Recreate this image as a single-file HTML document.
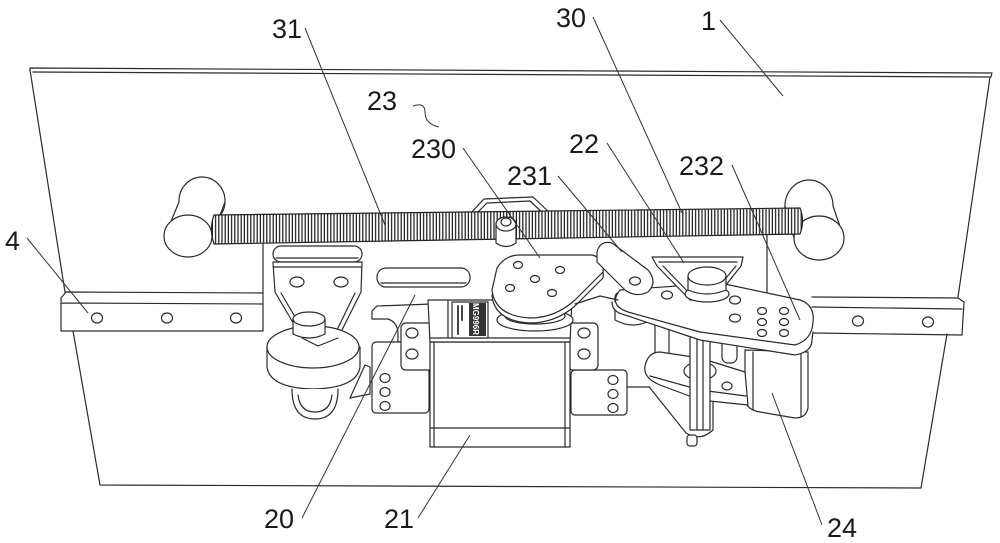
<!DOCTYPE html>
<html><head><meta charset="utf-8"><style>
html,body{margin:0;padding:0;background:#fff;}
svg{display:block;}
.lb{font-family:"Liberation Sans",Arial,sans-serif;font-size:27px;fill:#1a1a1a;}
</style></head><body>
<svg width="1000" height="543" viewBox="0 0 1000 543" xmlns="http://www.w3.org/2000/svg">
<defs>
<pattern id="coil" width="3.2" height="60" patternUnits="userSpaceOnUse">
<rect width="3.2" height="60" fill="#fff"/>
<path d="M1.2 0V60" stroke="#222" stroke-width="1.25"/>
</pattern>
</defs>
<g fill="none" stroke="#2b2b2b" stroke-width="1.2" stroke-linejoin="round" stroke-linecap="round">
<!-- plate 1 -->
<path d="M30 68 L992 73 M33 72 L989 77 M30 68 L30 71 M992 73 L991 77"/>
<path d="M30 70 L65 292"/>
<path d="M73 331 L100 485 L921 488 L947 334"/>
<path d="M990 77 L958 297"/>
<!-- bar 4 left -->
<path d="M61 298 L66 292 L263 293 M61 298 L61 331 L263 331 M61 303 L263 304"/>
<ellipse cx="97" cy="318" rx="5.5" ry="5"/>
<ellipse cx="167" cy="318" rx="5.5" ry="5"/>
<ellipse cx="236" cy="318" rx="5.5" ry="5"/>
<!-- bar right -->
<path d="M812 297 L958 298 L964 302 L962 335 L812 333 M812 307 L962 309"/>
<ellipse cx="858" cy="321" rx="5.5" ry="5"/>
<ellipse cx="928" cy="322" rx="5.5" ry="5"/>
<!-- backplate edges -->
<path d="M263 243 L263 331 M767 233 L767 297"/>
<!-- left cylinder -->
<ellipse cx="202" cy="201" rx="23" ry="24" fill="#fff"/>
<path d="M179 202 L165 236 L212 237 L225 202 Z" fill="#fff" stroke="none"/>
<path d="M179 202 L165 236 M225 202 L212 236"/>
<ellipse cx="188" cy="236" rx="24" ry="21" fill="#fff"/>
<!-- right cylinder -->
<ellipse cx="809" cy="206" rx="24" ry="26" fill="#fff"/>
<path d="M785 206 L794 238 L844 238 L833 206 Z" fill="#fff" stroke="none"/>
<path d="M785 206 L794 238 M833 206 L844 238"/>
<ellipse cx="819" cy="238" rx="25" ry="22" fill="#fff"/>
<!-- pin bracket behind spring -->
<path d="M467 217 L484 199 L533 197 L552 215 M472 218 L487 203 L530 201 L546 216" fill="#fff"/>
<!-- spring 31 -->
<path d="M214 215 L800 208 Q805 221 800 234 L214 244 Q209 229 214 215 Z" fill="url(#coil)" stroke="#222"/>
<!-- pin -->
<path d="M496 224 L496 243 Q506 250 516 243 L516 224" fill="#fff"/>
<ellipse cx="506" cy="224" rx="10" ry="7" fill="#fff"/>
<ellipse cx="506" cy="222" rx="5" ry="4"/>
<!-- left roller bracket -->
<rect x="273" y="246" width="89" height="16" rx="8" fill="#fff"/>
<path d="M276 258 L358 258"/>
<path d="M273 262 L362 262 L361 292 L338 338 L302 338 L275 292 Z" fill="#fff"/>
<path d="M273 267 L362 267 M281 293 L305 334 M355 293 L335 334"/>
<ellipse cx="297" cy="282" rx="7" ry="5"/>
<ellipse cx="341" cy="282" rx="7" ry="5"/>
<!-- wheel -->
<path d="M267 347 L267 367 Q270 388 313 389 Q357 388 360 367 L360 347" fill="#fff"/>
<ellipse cx="313" cy="347" rx="46" ry="21" fill="#fff"/>
<path d="M292 389 Q292 419 315 419 Q338 419 338 389" fill="#fff"/>
<path d="M298 395 Q300 412 315 412 Q330 412 332 395"/>
<!-- bolt -->
<path d="M293 319 L293 334 Q309 342 325 334 L325 319" fill="#fff"/>
<ellipse cx="309" cy="319" rx="16" ry="7" fill="#fff"/>
<path d="M302 338 L318 346 L338 338"/>
<!-- clip near wheel -->
<path d="M350 398 L365 365 L370 367 L370 394 Z" fill="#fff"/>
<!-- middle slot -->
<rect x="377" y="268" width="93" height="19" rx="9" fill="#fff"/>
<path d="M381 283 L466 283"/>
<!-- plate 20 hook -->
<path d="M372 319 L372 311 L377 306 L432 304 M372 319 L388 319 Q397 322 398 332 L398 348" fill="#fff"/>
<!-- servo side brackets -->
<rect x="372" y="342" width="57" height="71" rx="4" fill="#fff"/>
<ellipse cx="385" cy="378" rx="5" ry="4.5"/>
<ellipse cx="385" cy="392" rx="5" ry="4.5"/>
<ellipse cx="385" cy="406" rx="5" ry="4.5"/>
<rect x="571" y="370" width="56" height="45" rx="4" fill="#fff"/>
<ellipse cx="613" cy="380" rx="5" ry="4.5"/>
<ellipse cx="613" cy="394" rx="5" ry="4.5"/>
<ellipse cx="613" cy="408" rx="5" ry="4.5"/>
<!-- servo ears -->
<rect x="401" y="323" width="32" height="47" rx="5" fill="#fff"/>
<ellipse cx="412" cy="333" rx="6" ry="5"/>
<ellipse cx="412" cy="354" rx="6" ry="5"/>
<rect x="568" y="323" width="30" height="47" rx="5" fill="#fff"/>
<ellipse cx="584" cy="333" rx="6" ry="5"/>
<ellipse cx="584" cy="354" rx="6" ry="5"/>
<!-- servo body 21 -->
<rect x="430" y="342" width="140" height="105" fill="#fff"/>
<path d="M434 342 L434 447 M430 428 L570 428 M565 342 L565 447"/>
<path d="M430 342 L428 300 L572 300 L570 342 Z" fill="#fff"/>
<path d="M430 338 L570 338 M448 300 L448 338"/>
<rect x="452" y="302" width="36" height="36" fill="#fff"/>
<rect x="469" y="303" width="17" height="33" fill="#333" stroke="none"/>
<path d="M458 306 L458 334 M462 306 L462 320" stroke="#444" stroke-width="2"/>
<!-- servo horn -->
<ellipse cx="535" cy="320" rx="38" ry="11" fill="#fff"/>
<ellipse cx="535" cy="316" rx="30" ry="8" fill="#fff"/>
<path d="M497 274 Q505 261 520 261 L592 261 Q605 264 603 278 L575 306 Q555 323 530 323 Q495 321 492 296 Z" fill="#fff"/>
<path d="M497 268 Q505 255 520 255 L592 255 Q605 258 603 272 L575 300 Q555 318 530 318 Q495 316 492 290 Z" fill="#fff"/>
<ellipse cx="518" cy="265" rx="4.5" ry="3.5"/>
<ellipse cx="560" cy="270" rx="4.5" ry="3.5"/>
<ellipse cx="535" cy="279" rx="4.5" ry="3.5"/>
<ellipse cx="510" cy="288" rx="4.5" ry="3.5"/>
<ellipse cx="552" cy="293" rx="4.5" ry="3.5"/>
<!-- right mechanism -->
<path d="M627 387 L650 387"/>
<!-- cone -->
<path d="M650 388 L686 433 Q700 442 713 430 L713 400" fill="#fff"/>
<rect x="687" y="435" width="10" height="11" rx="3" fill="#fff"/>
<!-- posts -->
<rect x="655" y="318" width="14" height="48" rx="6" fill="#fff"/>
<rect x="722" y="325" width="15" height="38" rx="6" fill="#fff"/>
<!-- block 24 -->
<path d="M745 350 L808 352 L808 408 Q806 418 795 418 L760 412 Q747 410 745 400 Z" fill="#fff"/>
<path d="M753 352 L753 410 M801 352 L801 416"/>
<!-- lower plate -->
<path d="M660 352 L700 358 L745 372 L748 405 L700 400 L660 385 Q643 378 645 366 Q648 352 660 352 Z" fill="#fff"/>
<path d="M650 376 L700 390 L746 396"/>
<ellipse cx="700" cy="371" rx="16" ry="9"/>
<ellipse cx="727" cy="386" rx="5" ry="4"/>
<!-- shaft -->
<rect x="690" y="312" width="20" height="118" fill="#fff"/>
<path d="M697 312 L697 430 M703 312 L703 430"/>
<!-- roller under links -->
<path d="M615 297 L615 320 Q633 330 651 320 L651 297" fill="#fff"/>
<ellipse cx="633" cy="297" rx="18" ry="8" fill="#fff"/>
<!-- top plate 232 -->
<path d="M612 302 Q612 312 625 315 L700 340 L795 355 Q812 352 812 340 L813 332" fill="#fff"/>
<path d="M620 290 L720 283 L800 300 Q815 305 813 322 Q812 340 795 345 L700 332 L628 312 Q608 305 620 290 Z" fill="#fff"/>
<ellipse cx="667" cy="295" rx="5.5" ry="4"/>
<ellipse cx="735" cy="300" rx="5.5" ry="4"/>
<ellipse cx="735" cy="318" rx="5.5" ry="4"/>
<ellipse cx="762" cy="311" rx="4.5" ry="3.5"/>
<ellipse cx="784" cy="311" rx="4.5" ry="3.5"/>
<ellipse cx="762" cy="322" rx="4.5" ry="3.5"/>
<ellipse cx="784" cy="322" rx="4.5" ry="3.5"/>
<ellipse cx="762" cy="333" rx="4.5" ry="3.5"/>
<ellipse cx="784" cy="333" rx="4.5" ry="3.5"/>
<!-- link 231 -->
<path d="M597 252 Q600 240 612 243 L648 270 Q658 282 648 292 Q636 298 625 290 L597 262 Z" fill="#fff"/>
<ellipse cx="635" cy="281" rx="5.5" ry="4"/>
<path d="M575 304 L600 296 L618 300"/>
<!-- bracket 22 -->
<path d="M652 257 L743 257 L741 266 L714 300 L690 300 L657 266 Z" fill="#fff"/>
<path d="M659 262 L737 262 M663 266 L692 296 M736 266 L711 296"/>
<ellipse cx="707" cy="294" rx="22" ry="8" fill="#fff"/>
<path d="M688 276 L688 290 Q707 298 726 290 L726 276" fill="#fff"/>
<ellipse cx="707" cy="276" rx="19" ry="9" fill="#fff"/>
</g>
<text transform="translate(473,319) rotate(90)" text-anchor="middle" style="font-family:'Liberation Sans',sans-serif;font-size:8px;font-weight:bold;fill:#fff">MG996R</text>
<!-- leaders -->
<g fill="none" stroke="#333" stroke-width="1">
<path d="M305 28 L385 225"/>
<path d="M413 106 Q425 102 425 112 Q425 124 439 127"/>
<path d="M463 148 L540 258"/>
<path d="M593 17 L682 213"/>
<path d="M720 20 L783 96"/>
<path d="M607 143 L684 263"/>
<path d="M558 176 L622 252"/>
<path d="M732 165 L800 320"/>
<path d="M27 238 L88 313"/>
<path d="M302 518 L415 295"/>
<path d="M418 518 L470 435"/>
<path d="M822 525 L772 393"/>
</g>
<g class="lb">
<text class="lb" x="272" y="38">31</text>
<text class="lb" x="367" y="110">23</text>
<text class="lb" x="411" y="158">230</text>
<text class="lb" x="556" y="27">30</text>
<text class="lb" x="701" y="30">1</text>
<text class="lb" x="569" y="153">22</text>
<text class="lb" x="507" y="185">231</text>
<text class="lb" x="679" y="175">232</text>
<text class="lb" x="5" y="250">4</text>
<text class="lb" x="264" y="528">20</text>
<text class="lb" x="384" y="528">21</text>
<text class="lb" x="827" y="537">24</text>
</g>
</svg>
</body></html>
